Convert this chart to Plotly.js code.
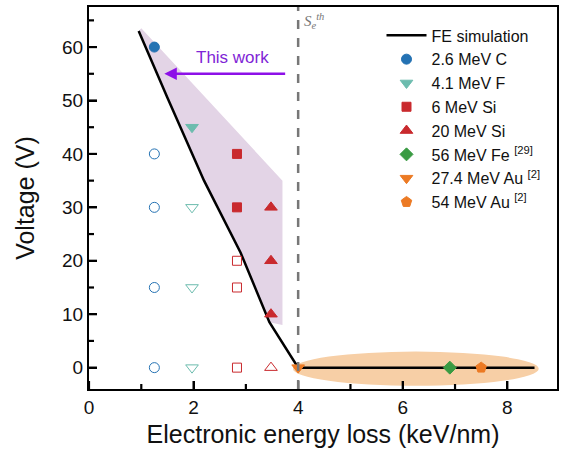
<!DOCTYPE html>
<html><head><meta charset="utf-8">
<script src="https://cdn.plot.ly/plotly-3.0.1.min.js"></script>
<style>html,body{margin:0;padding:0;background:#fff}#plot{width:564px;height:457px}</style>
</head><body><div id="plot"></div>
<script>
// FE simulation curve
const feX = [0.95, 1.5, 2.2, 2.9, 3.45, 4.0, 8.52];
const feY = [63, 50.5, 35, 21.5, 8.5, 0, 0];
// "This work" shaded region
const regionX = [1.0, 3.7, 3.7, 3.45, 2.9, 2.2, 1.5, 0.95];
const regionY = [63.5, 35, 8, 8.5, 21.5, 35, 50.5, 63];
// Orange ellipse bounds [x0, x1, y0, y1]
const ellipse = [3.9, 8.6, -3.4, 3.0];
const threshold = 4.0;

// Axis ranges and ticks
const xRange = [0, 8.95];
const yRange = [-4, 67.5];
const xTicks = [0, 2, 4, 6, 8];
const xMinor = [1, 3, 5, 7];
const yTicks = [0, 10, 20, 30, 40, 50, 60];
const yMinor = [5, 15, 25, 35, 45, 55, 65];

// 2.6 MeV C
const cX = [1.25]; const cY = [60];
const cOpenX = [1.25, 1.25, 1.25, 1.25]; const cOpenY = [40, 30, 15, 0];
// 4.1 MeV F
const fX = [1.97]; const fY = [45];
const fOpenX = [1.97, 1.97, 1.97]; const fOpenY = [30, 15, 0];
// 6 MeV Si
const si6X = [2.83, 2.83]; const si6Y = [40, 30];
const si6OpenX = [2.83, 2.83, 2.83]; const si6OpenY = [20, 15, 0];
// 20 MeV Si
const si20X = [3.48, 3.48, 3.48]; const si20Y = [30, 20, 10];
const si20OpenX = [3.48]; const si20OpenY = [0];
// 56 MeV Fe
const feIonX = [6.9]; const feIonY = [0];
// 27.4 MeV Au
const au27X = [4.0]; const au27Y = [0];
// 54 MeV Au
const au54X = [7.5]; const au54Y = [0];

const names = ['FE simulation','2.6 MeV C','4.1 MeV F','6 MeV Si','20 MeV Si',
  '56 MeV Fe <sup>[29]</sup>','27.4 MeV Au <sup>[2]</sup>','54 MeV Au <sup>[2]</sup>'];

const blue='#2472b3', teal='#6cbcae', red='#c92a2e', green='#3a9b43', orange='#ec7a24';
const FONT='Liberation Sans, Arial, sans-serif';

function pts(x,y,name,color,symbol,size,show){
  return {x:x,y:y,type:'scatter',mode:'markers',name:name,showlegend:show,
    marker:{color:color,symbol:symbol,size:size,line:{color:color,width:1}}};
}

// tick marks drawn as line traces from the tick arrays (lengths in px converted to data units)
const plotW = 564 - 89 - 7, plotH = 457 - 7 - 68;
const pxX = (xRange[1]-xRange[0]) / plotW, pxY = (yRange[1]-yRange[0]) / plotH;
function tickTrace(){
  const tx = [], ty = [];
  xTicks.forEach(v=>{tx.push(v,v,null); ty.push(yRange[0],yRange[0]+8*pxY,null);});
  xMinor.forEach(v=>{tx.push(v,v,null); ty.push(yRange[0],yRange[0]+5*pxY,null);});
  yTicks.forEach(v=>{tx.push(xRange[0],xRange[0]+8*pxX,null); ty.push(v,v,null);});
  yMinor.forEach(v=>{tx.push(xRange[0],xRange[0]+5*pxX,null); ty.push(v,v,null);});
  return {x:tx,y:ty,type:'scatter',mode:'lines',line:{color:'#000',width:2.2},
    showlegend:false,hoverinfo:'skip',connectgaps:false,cliponaxis:false};
}

const traces = [
  {x:regionX,y:regionY,type:'scatter',mode:'lines',fill:'toself',fillcolor:'#e3d4e6',
   line:{width:0,color:'#e3d4e6',shape:'linear'},showlegend:false,hoverinfo:'skip'},
  {x:feX,y:feY,type:'scatter',mode:'lines',name:names[0],line:{color:'#000',width:2.5}},
  pts(cX,cY,names[1],blue,'circle',10,true),
  pts(fX,fY,names[2],teal,'triangle-down',11,true),
  pts(si6X,si6Y,names[3],red,'square',9,true),
  pts(si20X,si20Y,names[4],red,'triangle-up',11,true),
  pts(feIonX,feIonY,names[5],green,'diamond',10,true),
  pts(au27X,au27Y,names[6],orange,'triangle-down',11,true),
  pts(au54X,au54Y,names[7],orange,'pentagon',11,true),
  pts(cOpenX,cOpenY,'',blue,'circle-open',10,false),
  pts(fOpenX,fOpenY,'',teal,'triangle-down-open',11,false),
  pts(si6OpenX,si6OpenY,'',red,'square-open',9,false),
  pts(si20OpenX,si20OpenY,'',red,'triangle-up-open',11,false),
  tickTrace()
];

const shapes = [
  {type:'circle',xref:'x',yref:'y',x0:ellipse[0],x1:ellipse[1],y0:ellipse[2],y1:ellipse[3],
   fillcolor:'#f7cfa6',line:{width:0},layer:'below'},
  {type:'line',xref:'x',yref:'paper',x0:threshold,x1:threshold,y0:0,y1:1,
   line:{color:'#777',width:2.5,dash:'dash'}}
];

const layout = {
  width:564,height:457,margin:{l:89,r:7,t:7,b:68},
  paper_bgcolor:'#fff',plot_bgcolor:'#fff',
  font:{family:FONT,color:'#111'},
  xaxis:{range:xRange,tickmode:'array',tickvals:xTicks,
    showgrid:false,zeroline:false,showline:true,mirror:true,linecolor:'#000',linewidth:2,
    ticks:'inside',ticklen:8,tickwidth:2,tickcolor:'#000',
    tickfont:{family:FONT,size:19,color:'#111'},
    title:{text:'Electronic energy loss (keV/nm)',font:{size:25,family:FONT,color:'#111'},standoff:9}},
  yaxis:{range:yRange,tickmode:'array',tickvals:yTicks,
    showgrid:false,zeroline:false,showline:true,mirror:true,linecolor:'#000',linewidth:2,
    ticks:'inside',ticklen:8,tickwidth:2,tickcolor:'#000',
    tickfont:{family:FONT,size:19,color:'#111'},
    title:{text:'Voltage (V)',font:{size:25,family:FONT,color:'#111'},standoff:20}},
  legend:{x:0.625,y:0.97,xanchor:'left',yanchor:'top',bgcolor:'rgba(0,0,0,0)',
    font:{size:16,family:FONT,color:'#111'},tracegroupgap:0,itemwidth:40},
  shapes:shapes,
  annotations:[
    {x:1.44,y:55,ax:3.78,ay:55,xref:'x',yref:'y',axref:'x',ayref:'y',text:'',showarrow:true,
     arrowhead:2,arrowsize:1,arrowwidth:2.5,arrowcolor:'#8d10e8'},
    {x:2.75,y:58,xref:'x',yref:'y',text:'This work',showarrow:false,
     font:{size:17,color:'#7f25d6',family:FONT}},
    {x:threshold,y:1,xref:'x',yref:'paper',xanchor:'left',yanchor:'top',xshift:4,yshift:-2,
     text:'<i>S<sub>e</sub><sup>th</sup></i>',showarrow:false,font:{size:15,color:'#777',family:'Liberation Serif, serif'}}
  ]
};
Plotly.newPlot('plot',traces,layout,{displayModeBar:false,staticPlot:true});
</script></body></html>
